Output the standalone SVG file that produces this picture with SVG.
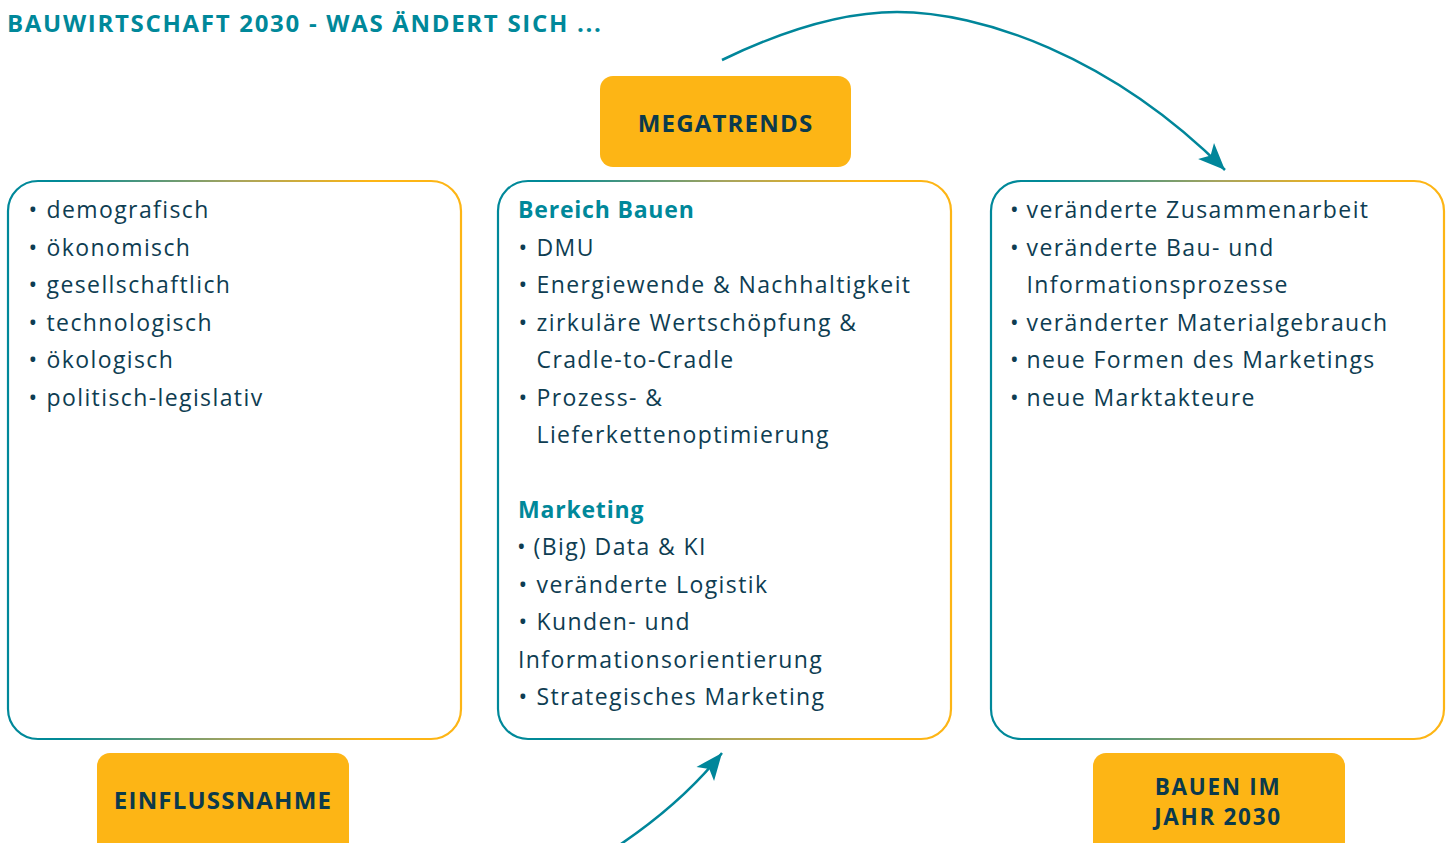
<svg xmlns="http://www.w3.org/2000/svg" width="1451" height="843" viewBox="0 0 1451 843">
  <defs>
    <linearGradient id="border" x1="0" y1="0" x2="1" y2="0">
      <stop offset="0" stop-color="#00889A"/>
      <stop offset="0.12" stop-color="#008A97"/>
      <stop offset="0.5" stop-color="#A6A45E"/>
      <stop offset="0.8" stop-color="#FDB515"/>
      <stop offset="1" stop-color="#FDB515"/>
    </linearGradient>
    <marker id="head" markerUnits="userSpaceOnUse" markerWidth="30" markerHeight="30" viewBox="-26 -12 28 24" refX="0" refY="0" orient="auto">
      <path d="M0,0 L-25,-10.5 L-19,0 L-25,10.5 Z" fill="#00869A"/>
    </marker>
    <style>
      .frame { fill: #FFFFFF; stroke: url(#border); stroke-width: 2.2; }
      .tag { fill: #FDB515; }
      .tagtxt { font-family: "Open Sans", "Liberation Sans", sans-serif; font-weight: 700; font-size: 24px; fill: #0B3A4C; text-anchor: middle; letter-spacing: 1.2px; }
      .tagtxt2 { font-size: 22.5px; letter-spacing: 1.7px; }
      .title { font-family: "Open Sans", "Liberation Sans", sans-serif; font-weight: 700; font-size: 24px; fill: #00889A; letter-spacing: 1.7px; }
      .item { font-family: "Open Sans", "Liberation Sans", sans-serif; font-size: 23px; fill: #0E3D52; letter-spacing: 1.4px; }
      .head { font-family: "Open Sans", "Liberation Sans", sans-serif; font-weight: 700; font-size: 23px; fill: #00889A; letter-spacing: 0.8px; }
      .conn { fill: none; stroke: #00869A; stroke-width: 2.5; marker-end: url(#head); }
    </style>
  </defs>
  <rect width="1451" height="843" fill="#FFFFFF"/>

  <text id="title" class="title" x="7" y="32">BAUWIRTSCHAFT 2030 - WAS ÄNDERT SICH ...</text>

  <g id="connectors">
    <path class="conn" d="M722,60 C780,32 840,12 897,12 C980,12 1110,55 1225,170"/>
    <path class="conn" d="M618,846 Q682,803 722,753"/>
  </g>

  <g id="megatrends">
    <rect class="tag" x="600" y="76" width="251" height="91" rx="13"/>
    <text class="tagtxt" x="725.5" y="132">MEGATRENDS</text>
  </g>

  <g id="einflussnahme">
    <rect class="tag" x="97" y="753" width="252" height="110" rx="13"/>
    <text class="tagtxt" x="223" y="809">EINFLUSSNAHME</text>
  </g>

  <g id="bauen2030">
    <rect class="tag" x="1093" y="753" width="252" height="110" rx="13"/>
    <text class="tagtxt tagtxt2"><tspan x="1218" y="794.5">BAUEN IM</tspan><tspan x="1218" y="825">JAHR 2030</tspan></text>
  </g>

  <g id="box-einfluss">
    <rect class="frame" x="8" y="181" width="453" height="558" rx="30"/>
    <text class="item"><tspan x="28.5" y="218">•</tspan><tspan x="46.5" y="218">demografisch</tspan></text>
    <text class="item"><tspan x="28.5" y="255.5">•</tspan><tspan x="46.5" y="255.5">ökonomisch</tspan></text>
    <text class="item"><tspan x="28.5" y="293">•</tspan><tspan x="46.5" y="293">gesellschaftlich</tspan></text>
    <text class="item"><tspan x="28.5" y="330.5">•</tspan><tspan x="46.5" y="330.5">technologisch</tspan></text>
    <text class="item"><tspan x="28.5" y="368">•</tspan><tspan x="46.5" y="368">ökologisch</tspan></text>
    <text class="item"><tspan x="28.5" y="405.5">•</tspan><tspan x="46.5" y="405.5">politisch-legislativ</tspan></text>
  </g>

  <g id="box-megatrends">
    <rect class="frame" x="498" y="181" width="453" height="558" rx="30"/>
    <text class="head" x="518" y="218">Bereich Bauen</text>
    <text class="item"><tspan x="518.5" y="255.5">•</tspan><tspan x="536.5" y="255.5">DMU</tspan></text>
    <text class="item"><tspan x="518.5" y="293">•</tspan><tspan x="536.5" y="293">Energiewende &amp; Nachhaltigkeit</tspan></text>
    <text class="item"><tspan x="518.5" y="330.5">•</tspan><tspan x="536.5" y="330.5">zirkuläre Wertschöpfung &amp;</tspan></text>
    <text class="item" x="536.5" y="368">Cradle-to-Cradle</text>
    <text class="item"><tspan x="518.5" y="405.5">•</tspan><tspan x="536.5" y="405.5">Prozess- &amp;</tspan></text>
    <text class="item" x="536.5" y="443">Lieferkettenoptimierung</text>
    <text class="head" x="518" y="517.5">Marketing</text>
    <text class="item"><tspan x="517" y="555">•</tspan><tspan x="533.5" y="555">(Big) Data &amp; KI</tspan></text>
    <text class="item"><tspan x="518.5" y="592.5">•</tspan><tspan x="536.5" y="592.5">veränderte Logistik</tspan></text>
    <text class="item"><tspan x="518.5" y="630">•</tspan><tspan x="536.5" y="630">Kunden- und</tspan></text>
    <text class="item" x="518" y="667.5">Informationsorientierung</text>
    <text class="item"><tspan x="518.5" y="705">•</tspan><tspan x="536.5" y="705">Strategisches Marketing</tspan></text>
  </g>

  <g id="box-bauen">
    <rect class="frame" x="991" y="181" width="453" height="558" rx="30"/>
    <text class="item"><tspan x="1010" y="218">•</tspan><tspan x="1026.5" y="218">veränderte Zusammenarbeit</tspan></text>
    <text class="item"><tspan x="1010" y="255.5">•</tspan><tspan x="1026.5" y="255.5">veränderte Bau- und</tspan></text>
    <text class="item" x="1026.5" y="293">Informationsprozesse</text>
    <text class="item"><tspan x="1010" y="330.5">•</tspan><tspan x="1026.5" y="330.5">veränderter Materialgebrauch</tspan></text>
    <text class="item"><tspan x="1010" y="368">•</tspan><tspan x="1026.5" y="368">neue Formen des Marketings</tspan></text>
    <text class="item"><tspan x="1010" y="405.5">•</tspan><tspan x="1026.5" y="405.5">neue Marktakteure</tspan></text>
  </g>
</svg>
